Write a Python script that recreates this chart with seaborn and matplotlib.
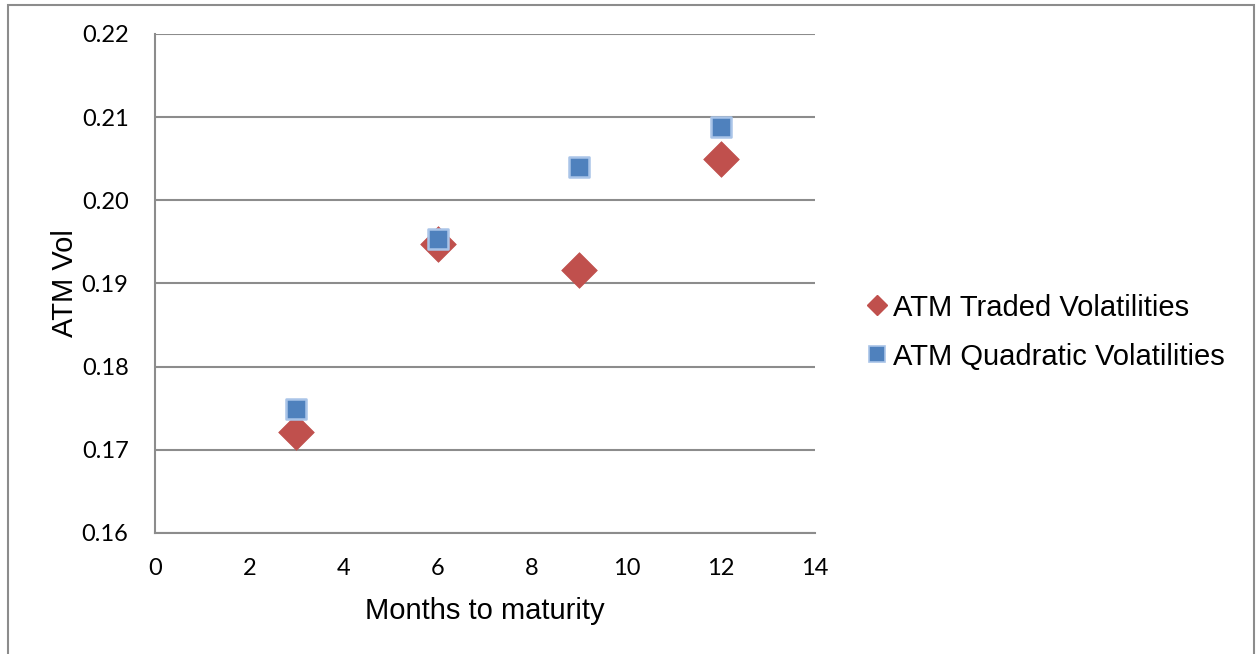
import matplotlib
matplotlib.use("Agg")
import matplotlib.pyplot as plt
from matplotlib.lines import Line2D
from matplotlib.patches import Rectangle
import seaborn as sns
import pandas as pd

# Months to maturity and at-the-money volatilities
months = [3, 6, 9, 12]
traded_vol = [0.1721, 0.1947, 0.1916, 0.2050]
quadratic_vol = [0.1749, 0.1953, 0.2040, 0.2088]

series_names = ["ATM Traded Volatilities", "ATM Quadratic Volatilities"]
x_ticks = [0, 2, 4, 6, 8, 10, 12, 14]
y_ticks = [0.16, 0.17, 0.18, 0.19, 0.20, 0.21, 0.22]

red = "#C0504D"
blue = "#4F81BD"
blue_edge = "#A9C4E8"
grid_gray = "#8C8C8C"

sns.set_theme(style="white")
plt.rcParams["font.family"] = ["Liberation Sans", "DejaVu Sans"]
plt.rcParams["text.color"] = "black"
plt.rcParams["axes.labelcolor"] = "black"

fig = plt.figure(figsize=(12.57, 6.54), dpi=100)
ax = fig.add_axes([155 / 1257, 1 - 533 / 654, 660 / 1257, 499 / 654])

df_traded = pd.DataFrame({"months": months, "vol": traded_vol})
df_quad = pd.DataFrame({"months": months, "vol": quadratic_vol})

sns.scatterplot(data=df_traded, x="months", y="vol", ax=ax, marker="D",
                s=330, color=red, edgecolor=red, linewidth=0.5,
                legend=False, zorder=3)
sns.scatterplot(data=df_quad, x="months", y="vol", ax=ax, marker="s",
                s=210, color=blue, edgecolor=blue_edge, linewidth=1.8,
                legend=False, zorder=4)

ax.set_xlim(0, 14)
ax.set_ylim(0.16, 0.22)
ax.set_xticks(x_ticks)
ax.set_yticks(y_ticks)
ax.set_xticklabels([str(v) for v in x_ticks], fontfamily="Lato", fontsize=17)
ax.set_yticklabels([f"{v:.2f}" for v in y_ticks], fontfamily="Lato", fontsize=17)
ax.tick_params(axis="both", length=0, colors="black")
ax.tick_params(axis="y", pad=19)
ax.tick_params(axis="x", pad=18)

ax.yaxis.grid(True, color=grid_gray, linewidth=1.5)
ax.xaxis.grid(False)
ax.set_axisbelow(True)

for side in ["top", "right"]:
    ax.spines[side].set_visible(False)
for side in ["left", "bottom"]:
    ax.spines[side].set_visible(True)
    ax.spines[side].set_color(grid_gray)
    ax.spines[side].set_linewidth(1.5)

ax.set_xlabel("Months to maturity", fontsize=21, labelpad=13, color="black")
ax.set_ylabel("ATM Vol", fontsize=21, labelpad=2, color="black")

handles = [
    Line2D([], [], linestyle="none", marker="D", markersize=10,
           markerfacecolor=red, markeredgecolor=red),
    Line2D([], [], linestyle="none", marker="s", markersize=12,
           markerfacecolor=blue, markeredgecolor=blue_edge, markeredgewidth=1.2),
]
leg = fig.legend(handles, series_names, loc="center left",
                 bbox_to_anchor=(851 / 1257, 1 - 332 / 654), frameon=False,
                 fontsize=21, handlelength=0.8, handletextpad=0.15,
                 labelspacing=0.72, borderpad=0)
for t in leg.get_texts():
    t.set_color("black")

# Outer frame around the chart area
fig.patches.append(Rectangle((8 / 1257, -0.1), 1246 / 1257, 1.1 - 5 / 654,
                             transform=fig.transFigure, fill=False,
                             edgecolor=grid_gray, linewidth=1.5))

fig.savefig("out.png", dpi=100, facecolor="white")
